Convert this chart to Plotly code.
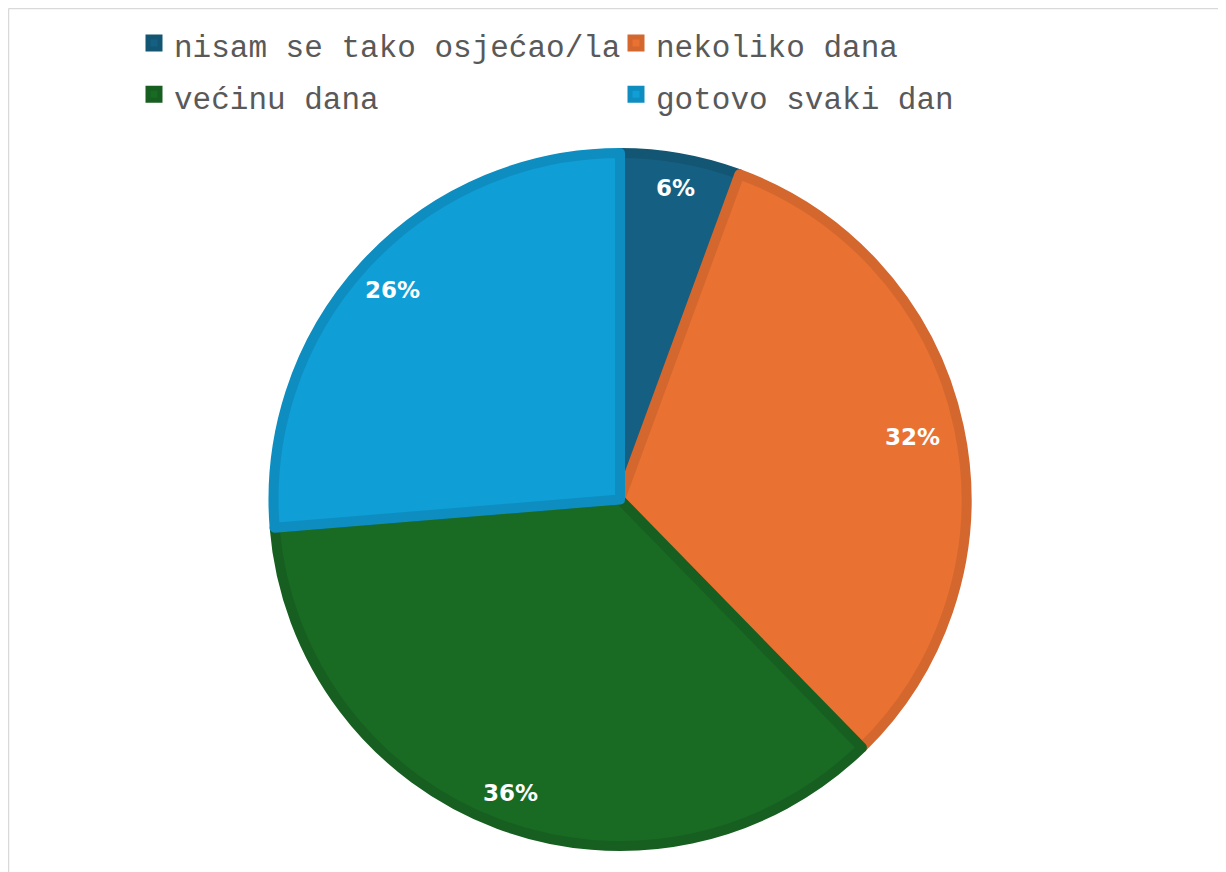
import math
import plotly.graph_objects as go

labels = ["nisam se tako osjećao/la", "nekoliko dana", "većinu dana", "gotovo svaki dan"]
values = [5.6, 32.1, 36.0, 26.3]
colors = ["#156082", "#E97132", "#196B24", "#0F9ED5"]
edge_colors = ["#125673", "#D4672E", "#175F20", "#0E8DC0"]

W, H = 1218, 864
cx, cy, r = 612, 491.5, 346.5

legend_labels = [f'<span style="font-size:31px">{l}</span>' for l in labels]

fig = go.Figure()
fig.add_trace(go.Pie(
    labels=legend_labels,
    values=values,
    sort=False,
    direction="clockwise",
    rotation=0,
    marker=dict(colors=colors, line=dict(color=edge_colors, width=10)),
    textinfo="none",
    hovertext=labels,
    hoverinfo="text+percent",
    domain=dict(x=[(cx - r) / W, (cx + r) / W], y=[1 - (cy + r) / H, 1 - (cy - r) / H]),
))

# percentage labels placed inside slices
total = sum(values)
cum = 0
label_r = [0.913, 0.862, 0.905, 0.891]
for i, v in enumerate(values):
    mid = (cum + v / 2) / total * 2 * math.pi
    cum += v
    px = cx + label_r[i] * r * math.sin(mid)
    py = cy - label_r[i] * r * math.cos(mid)
    fig.add_annotation(
        x=px / W, y=1 - py / H, xref="paper", yref="paper",
        xanchor="center", yanchor="middle",
        text=f"{round(v / total * 100)}%", showarrow=False,
        font=dict(family="DejaVu Sans", size=23, color="white", weight="bold"),
    )

# outer frame lines (top and left visible)
fig.add_shape(type="line", xref="paper", yref="paper",
              x0=0.5 / W, x1=1.0, y0=1 - 0.5 / H, y1=1 - 0.5 / H,
              line=dict(color="#D9D9D9", width=1.5))
fig.add_shape(type="line", xref="paper", yref="paper",
              x0=0.5 / W, x1=0.5 / W, y0=0, y1=1 - 0.5 / H,
              line=dict(color="#D9D9D9", width=1.5))

fig.update_layout(
    width=W, height=H,
    margin=dict(l=0, r=0, t=0, b=0),
    paper_bgcolor="white",
    plot_bgcolor="white",
    showlegend=True,
    legend=dict(
        orientation="h",
        x=126 / W, y=1 - 4.5 / H,
        xanchor="left", yanchor="top",
        entrywidth=437, entrywidthmode="pixels",
        font=dict(family="Liberation Mono, Courier New, monospace", size=37, color="#595959"),
        itemclick=False,
        bgcolor="rgba(0,0,0,0)",
    ),
)

fig.write_html("out.html")
